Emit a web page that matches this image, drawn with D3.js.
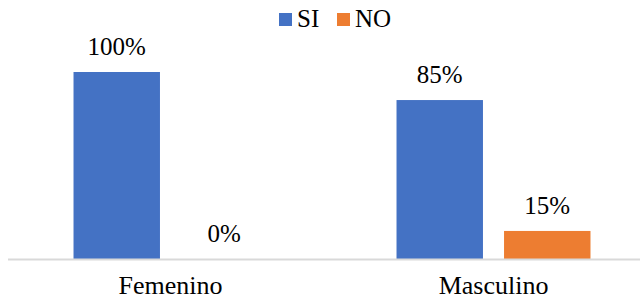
<!DOCTYPE html>
<html>
<head>
<meta charset="utf-8">
<script src="https://cdn.jsdelivr.net/npm/d3@7"></script>
<style>
  body { margin: 0; background: #fff; }
</style>
</head>
<body>
<div id="chart"></div>
<script>
// data
var categories = ["Femenino", "Masculino"];
var seriesNames = ["SI", "NO"];
var siValues = [100, 85];
var noValues = [0, 15];
var colors = ["#4472C4", "#ED7D31"];

var w = 640, h = 300;
var baseY = 259;
var serif = "Liberation Serif";

var svg = d3.select("#chart")
  .append("svg")
  .attr("width", w)
  .attr("height", h);

var x0 = d3.scaleBand()
  .domain(categories)
  .range([9, 655]);

var x1 = d3.scaleBand()
  .domain(seriesNames)
  .range([0, x0.bandwidth()])
  .paddingInner(0.196)
  .paddingOuter(0.6);

var y = d3.scaleLinear()
  .domain([0, 100])
  .range([baseY, 72]);

var rows = categories.map(function(c, i) {
  return { cat: c, vals: [siValues[i], noValues[i]] };
});

var groups = svg.selectAll("g.grp")
  .data(rows)
  .enter()
  .append("g")
  .attr("class", "grp")
  .attr("transform", function(d) { return "translate(" + x0(d.cat) + ",0)"; });

groups.selectAll("rect")
  .data(function(d) { return d.vals.map(function(v, j) { return { s: seriesNames[j], v: v, j: j }; }); })
  .enter()
  .append("rect")
  .attr("x", function(d) { return x1(d.s); })
  .attr("y", function(d) { return y(d.v); })
  .attr("width", x1.bandwidth())
  .attr("height", function(d) { return baseY - y(d.v); })
  .attr("fill", function(d) { return colors[d.j]; });

groups.selectAll("text.val")
  .data(function(d) { return d.vals.map(function(v, j) { return { s: seriesNames[j], v: v }; }); })
  .enter()
  .append("text")
  .attr("class", "val")
  .attr("x", function(d) { return x1(d.s) + x1.bandwidth() / 2; })
  .attr("y", function(d) { return y(d.v) - 17; })
  .attr("text-anchor", "middle")
  .style("font-family", serif)
  .style("font-size", "25px")
  .attr("fill", "#000")
  .text(function(d) { return d.v + "%"; });

// baseline
svg.append("line")
  .attr("x1", 8).attr("x2", w)
  .attr("y1", baseY + 0.5).attr("y2", baseY + 0.5)
  .attr("stroke", "#d9d9d9")
  .attr("stroke-width", 2);

// category labels
var xAxis = d3.axisBottom(x0).tickSize(0).tickPadding(0);
var ax = svg.append("g")
  .attr("transform", "translate(0,294)")
  .call(xAxis);
ax.select(".domain").remove();
ax.attr("font-family", null).attr("font-size", null);
ax.selectAll("text")
  .attr("dy", null)
  .attr("y", 0)
  .style("font-family", serif)
  .style("font-size", "26px")
  .attr("fill", "#000");

// legend
var legend = svg.append("g").attr("transform", "translate(279,0)");
var legX = [0, 58];
seriesNames.forEach(function(s, i) {
  legend.append("rect")
    .attr("x", legX[i]).attr("y", 13)
    .attr("width", 13).attr("height", 13)
    .attr("fill", colors[i]);
  legend.append("text")
    .attr("x", legX[i] + 18).attr("y", 27)
    .style("font-family", serif)
    .style("font-size", "25px")
    .attr("fill", "#000")
    .text(s);
});
</script>
</body>
</html>
